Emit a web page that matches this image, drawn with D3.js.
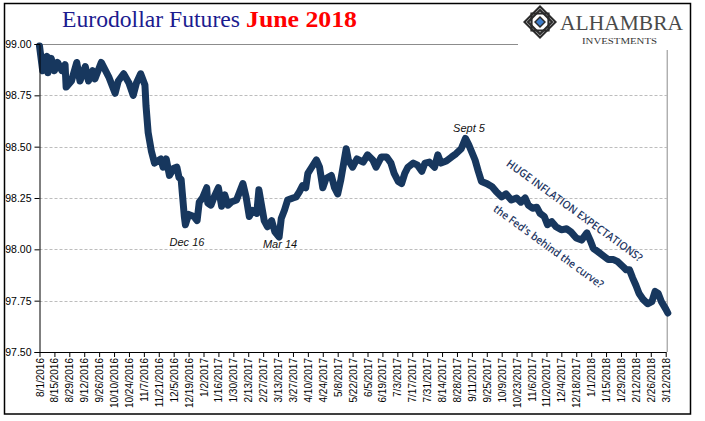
<!DOCTYPE html>
<html><head><meta charset="utf-8">
<script src="https://cdn.jsdelivr.net/npm/d3@7"></script>
<style>html,body{margin:0;padding:0;background:#fff;}svg{display:block;}</style>
</head><body>
<svg id="chart" width="705" height="421"></svg>
<script>
const dates = ["2016-08-01","2016-08-04","2016-08-08","2016-08-09","2016-08-12","2016-08-15","2016-08-18","2016-08-22","2016-08-25","2016-08-26","2016-08-31","2016-09-05","2016-09-08","2016-09-13","2016-09-16","2016-09-20","2016-09-22","2016-09-28","2016-10-05","2016-10-11","2016-10-14","2016-10-19","2016-10-24","2016-10-28","2016-10-31","2016-11-04","2016-11-08","2016-11-09","2016-11-11","2016-11-14","2016-11-17","2016-11-20","2016-11-23","2016-11-25","2016-11-28","2016-12-01","2016-12-05","2016-12-08","2016-12-10","2016-12-12","2016-12-15","2016-12-16","2016-12-19","2016-12-24","2016-12-27","2016-12-29","2017-01-01","2017-01-05","2017-01-06","2017-01-09","2017-01-12","2017-01-16","2017-01-19","2017-01-22","2017-01-25","2017-01-28","2017-02-02","2017-02-05","2017-02-08","2017-02-11","2017-02-14","2017-02-17","2017-02-21","2017-02-23","2017-02-26","2017-02-28","2017-03-03","2017-03-07","2017-03-10","2017-03-14","2017-03-16","2017-03-19","2017-03-22","2017-03-27","2017-03-30","2017-04-02","2017-04-05","2017-04-08","2017-04-10","2017-04-13","2017-04-18","2017-04-21","2017-04-24","2017-04-27","2017-05-02","2017-05-05","2017-05-08","2017-05-11","2017-05-13","2017-05-16","2017-05-18","2017-05-22","2017-05-26","2017-06-01","2017-06-05","2017-06-10","2017-06-13","2017-06-18","2017-06-23","2017-06-27","2017-06-30","2017-07-04","2017-07-07","2017-07-10","2017-07-13","2017-07-18","2017-07-22","2017-07-26","2017-07-29","2017-08-02","2017-08-07","2017-08-10","2017-08-13","2017-08-18","2017-08-23","2017-08-27","2017-09-01","2017-09-03","2017-09-05","2017-09-08","2017-09-14","2017-09-17","2017-09-20","2017-09-25","2017-09-30","2017-10-04","2017-10-09","2017-10-13","2017-10-18","2017-10-23","2017-10-27","2017-10-31","2017-11-03","2017-11-07","2017-11-11","2017-11-14","2017-11-18","2017-11-21","2017-11-25","2017-11-29","2017-12-04","2017-12-09","2017-12-13","2017-12-18","2017-12-23","2017-12-28","2017-12-31","2018-01-03","2018-01-07","2018-01-12","2018-01-17","2018-01-22","2018-01-26","2018-01-31","2018-02-03","2018-02-06","2018-02-09","2018-02-12","2018-02-15","2018-02-19","2018-02-23","2018-02-27","2018-03-02","2018-03-05","2018-03-08","2018-03-12","2018-03-14"];
const prices = [98.99,98.87,98.94,98.86,98.93,98.87,98.91,98.87,98.90,98.79,98.82,98.91,98.82,98.89,98.82,98.87,98.83,98.91,98.84,98.76,98.82,98.855,98.81,98.75,98.81,98.855,98.80,98.70,98.57,98.48,98.42,98.43,98.44,98.40,98.44,98.36,98.395,98.40,98.35,98.34,98.16,98.12,98.17,98.16,98.14,98.23,98.25,98.30,98.225,98.215,98.255,98.30,98.21,98.265,98.215,98.23,98.24,98.28,98.32,98.255,98.16,98.19,98.175,98.29,98.20,98.14,98.11,98.14,98.085,98.06,98.15,98.19,98.24,98.25,98.255,98.28,98.31,98.30,98.37,98.395,98.435,98.40,98.30,98.345,98.36,98.30,98.27,98.34,98.40,98.49,98.435,98.40,98.44,98.425,98.46,98.435,98.40,98.45,98.45,98.42,98.37,98.33,98.32,98.37,98.40,98.42,98.41,98.38,98.42,98.425,98.40,98.46,98.42,98.43,98.45,98.465,98.49,98.515,98.54,98.51,98.435,98.38,98.33,98.32,98.305,98.28,98.255,98.27,98.24,98.25,98.23,98.25,98.215,98.20,98.205,98.175,98.16,98.12,98.135,98.11,98.095,98.10,98.085,98.055,98.045,98.08,98.045,98.005,97.99,97.97,97.95,97.95,97.94,97.915,97.90,97.90,97.86,97.825,97.785,97.755,97.735,97.745,97.795,97.785,97.745,97.71,97.69];
const xTickLabels = ["8/1/2016","8/15/2016","8/29/2016","9/12/2016","9/26/2016","10/10/2016","10/24/2016","11/7/2016","11/21/2016","12/5/2016","12/19/2016","1/2/2017","1/16/2017","1/30/2017","2/13/2017","2/27/2017","3/13/2017","3/27/2017","4/10/2017","4/24/2017","5/8/2017","5/22/2017","6/5/2017","6/19/2017","7/3/2017","7/17/2017","7/31/2017","8/14/2017","8/28/2017","9/11/2017","9/25/2017","10/9/2017","10/23/2017","11/6/2017","11/20/2017","12/4/2017","12/18/2017","1/1/2018","1/15/2018","1/29/2018","2/12/2018","2/26/2018","3/12/2018"];
const yTicks = [97.50,97.75,98.00,98.25,98.50,98.75,99.00];
const annotations = [
  {text:"Dec 16", date:"2016-12-16"},
  {text:"Mar 14", date:"2017-03-14"},
  {text:"Sept 5", date:"2017-09-05"}
];
const titleMain = "Eurodollar Futures";
const titleRed = "June 2018";

const svg = d3.select("#chart");
const parseD = d3.utcParse("%Y-%m-%d");
const parseT = d3.utcParse("%m/%d/%Y");
const data = dates.map((d,i)=>({date:parseD(d), v:prices[i]}));
const tickDates = xTickLabels.map(parseT);

const L = 39.5, R = 665.7, T = 44, B = 352;
const x = d3.scaleUtc().domain([tickDates[0], tickDates[tickDates.length-1]]).range([L, R]);
const y = d3.scaleLinear().domain([97.5, 99]).range([B, T]);

// outer border
svg.append("rect").attr("x",4.5).attr("y",3.5).attr("width",686).attr("height",410.5)
  .attr("fill","#fff").attr("stroke","#000").attr("stroke-width",1.5);

// gridlines
svg.append("g").selectAll("line").data(yTicks.filter(t=>t>97.5 && t<99)).join("line")
  .attr("x1",L).attr("x2",R+1).attr("y1",d=>Math.round(y(d))+0.5).attr("y2",d=>Math.round(y(d))+0.5)
  .attr("stroke","#bdbdbd").attr("stroke-width",1).attr("stroke-dasharray","3,2");
// plot area top/right border
svg.append("path").attr("d",`M${L},${T+0.5}H${R+1.5}V${B}`).attr("fill","none")
  .attr("stroke","#8c8c8c").attr("stroke-width",1);

// line
const line = d3.line().x(d=>x(d.date)).y(d=>y(d.v)).curve(d3.curveLinear);
svg.append("path").datum(data).attr("d",line).attr("fill","none")
  .attr("stroke","#17375e").attr("stroke-width",7)
  .attr("stroke-linejoin","round").attr("stroke-linecap","round");

// y axis
const yAxis = svg.append("g").attr("transform",`translate(${L},0)`)
  .call(d3.axisLeft(y).tickValues(yTicks).tickFormat(d3.format(".2f")).tickSize(5).tickPadding(3));
yAxis.select(".domain").attr("stroke","#000");
yAxis.selectAll(".tick line").attr("stroke","#000");
yAxis.selectAll("text").attr("font-family","'Liberation Sans', Arial, sans-serif").attr("font-size","10.5px").attr("fill","#000");

// x axis
const xAxis = svg.append("g").attr("transform",`translate(0,${B})`)
  .call(d3.axisBottom(x).tickValues(tickDates).tickFormat((d,i)=>xTickLabels[i]).tickSize(5).tickSizeOuter(0));
xAxis.select(".domain").attr("stroke","#000");
xAxis.selectAll(".tick line").attr("stroke","#000");
xAxis.selectAll("text").attr("font-family","'Liberation Sans', Arial, sans-serif").attr("font-size","10px").attr("fill","#000")
  .attr("transform","rotate(-90)").attr("text-anchor","end").attr("x",-6).attr("y",0).attr("dy","0.35em");

// annotations
const annPos = {"Dec 16":[187,246], "Mar 14":[280,248], "Sept 5":[469,132]};
svg.append("g").selectAll("text").data(annotations).join("text")
  .attr("x",d=>annPos[d.text][0]).attr("y",d=>annPos[d.text][1])
  .attr("text-anchor","middle").attr("font-family","'Liberation Sans', Arial, sans-serif")
  .attr("font-style","italic").attr("font-size","11px").attr("fill","#111").text(d=>d.text);

svg.append("text").attr("transform","translate(575,210) rotate(36)")
  .attr("text-anchor","middle").attr("dominant-baseline","central")
  .attr("font-family","'Open Sans', 'Liberation Sans', sans-serif").attr("font-weight","600").attr("font-size","11px")
  .attr("fill","#1f3864").attr("textLength",165).attr("lengthAdjust","spacingAndGlyphs")
  .text("HUGE INFLATION EXPECTATIONS?");
svg.append("text").attr("transform","translate(549,246) rotate(36)")
  .attr("text-anchor","middle").attr("dominant-baseline","central")
  .attr("font-family","'Open Sans', 'Liberation Sans', sans-serif").attr("font-weight","600").attr("font-size","11px")
  .attr("fill","#1f3864").attr("textLength",133).attr("lengthAdjust","spacingAndGlyphs")
  .text("the Fed's behind the curve?");

// title
svg.append("text").attr("x",62).attr("y",27).attr("font-family","'Liberation Serif', Georgia, serif")
  .attr("font-size","23px").attr("fill","#1b1b8f").attr("textLength",178).attr("lengthAdjust","spacingAndGlyphs").text(titleMain);
svg.append("text").attr("x",246).attr("y",27).attr("font-family","'Liberation Serif', Georgia, serif")
  .attr("font-size","23px").attr("font-weight","bold").attr("fill","#ff0000").attr("textLength",111).attr("lengthAdjust","spacingAndGlyphs").text(titleRed);

// logo
const logo = svg.append("g");
logo.append("rect").attr("x",518).attr("y",5).attr("width",170).attr("height",45).attr("fill","#fff");
const cx = 540, cy = 22;
const dia = (r)=>`M${cx},${cy-r}L${cx+r},${cy}L${cx},${cy+r}L${cx-r},${cy}Z`;
const sq = (r)=>`M${cx-r},${cy-r}H${cx+r}V${cy+r}H${cx-r}Z`;
logo.append("path").attr("d",dia(17)).attr("fill","#2b2b2b");
logo.append("path").attr("d",dia(14)).attr("fill","#fff");
logo.append("path").attr("d",sq(8.5)).attr("fill","none").attr("stroke","#2b2b2b").attr("stroke-width",2.2);
logo.append("path").attr("d",dia(12)).attr("fill","none").attr("stroke","#2b2b2b").attr("stroke-width",2.2);
logo.append("path").attr("d",dia(6)).attr("fill","#2b2b2b");
logo.append("path").attr("d",dia(4)).attr("fill","#3d7cc9");
logo.append("text").attr("x",560).attr("y",30).attr("font-family","'Liberation Serif', serif").attr("font-size","21px")
  .attr("fill","#4a4a4a").attr("textLength",123).attr("lengthAdjust","spacingAndGlyphs").text("ALHAMBRA");
logo.append("text").attr("x",582).attr("y",44).attr("font-family","'Liberation Serif', serif").attr("font-size","9px")
  .attr("fill","#333").attr("textLength",75).attr("lengthAdjust","spacingAndGlyphs").text("INVESTMENTS");
</script>
</body></html>
